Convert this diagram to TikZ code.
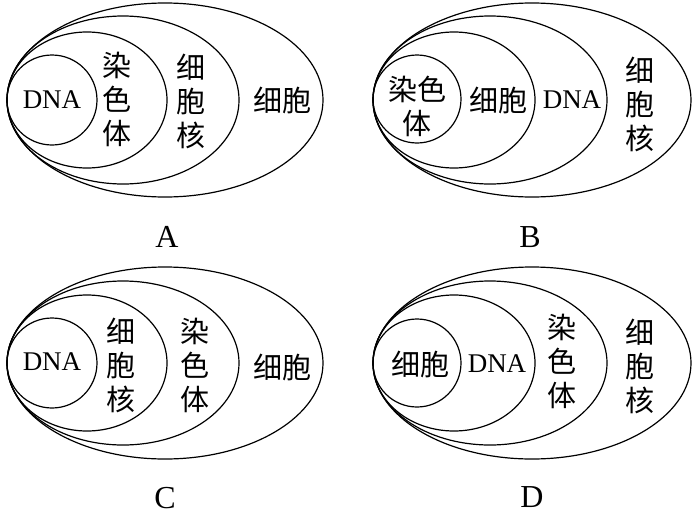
\documentclass[tikz,border=0pt]{standalone}
\usepackage{fontspec}
\setmainfont{Liberation Serif}
\newfontfamily\cjk{Noto Sans CJK SC}
\usetikzlibrary{positioning}

\tikzset{
  ring/.style={draw, line width=1.2pt},
  word/.style={font=\cjk\fontsize{29}{34}\selectfont, align=center, inner sep=0pt},
  latin/.style={font=\fontsize{27}{30}\selectfont, inner sep=0pt},
  panel/.style={font=\fontsize{32}{34}\selectfont, inner sep=0pt}
}

\begin{document}
\begin{tikzpicture}[x=1pt,y=-1pt]
    \useasboundingbox (0,0) rectangle (695,514);
    % panel A
    \draw[ring] (165,100) ellipse [x radius=158, y radius=97];
    \draw[ring] (123,100) ellipse [x radius=116, y radius=84];
    \draw[ring] (87,100) ellipse [x radius=80, y radius=68];
    \draw[ring] (52,100) circle [radius=45];
    \node[latin] (dnaA) at (52,100) {DNA};
    \node[word] (chromA) at (117,99) {染\\色\\体};
    \node[word] (nucA) at (191,101) {细\\胞\\核};
    \node[word] (cellA) at (282,100) {细胞};
    \node[panel] (labA) at (167,237) {A};
    % panel B
    \draw[ring] (532,100) ellipse [x radius=159, y radius=97];
    \draw[ring] (490,100) ellipse [x radius=117, y radius=84];
    \draw[ring] (454,100) ellipse [x radius=81, y radius=68];
    \draw[ring] (417,99) circle [radius=44];
    \node[word] (chromB) at (417,106) {染色\\体};
    \node[word] (cellB) at (498,100) {细胞};
    \node[latin] (dnaB) at (572,100) {DNA};
    \node[word] (nucB) at (640,104) {细\\胞\\核};
    \node[panel] (labB) at (530,237) {B};
    % panel C
    \draw[ring] (165,363) ellipse [x radius=158, y radius=96];
    \draw[ring] (123,363) ellipse [x radius=116, y radius=82];
    \draw[ring] (87,363) ellipse [x radius=80, y radius=68];
    \draw[ring] (52,363) circle [radius=45];
    \node[latin] (dnaC) at (52,362) {DNA};
    \node[word] (nucC) at (121,365) {细\\胞\\核};
    \node[word] (chromC) at (195,365) {染\\色\\体};
    \node[word] (cellC) at (282,367) {细胞};
    \node[panel] (labC) at (165,498) {C};
    % panel D
    \draw[ring] (532,363) ellipse [x radius=159, y radius=96];
    \draw[ring] (490,363) ellipse [x radius=117, y radius=82];
    \draw[ring] (454,363) ellipse [x radius=81, y radius=68];
    \draw[ring] (417,363) circle [radius=44];
    \node[word] (cellD) at (420,364) {细胞};
    \node[latin] (dnaD) at (497,364) {DNA};
    \node[word] (chromD) at (562,361) {染\\色\\体};
    \node[word] (nucD) at (640,366) {细\\胞\\核};
    \node[panel] (labD) at (532,497) {D};
\end{tikzpicture}
\end{document}
